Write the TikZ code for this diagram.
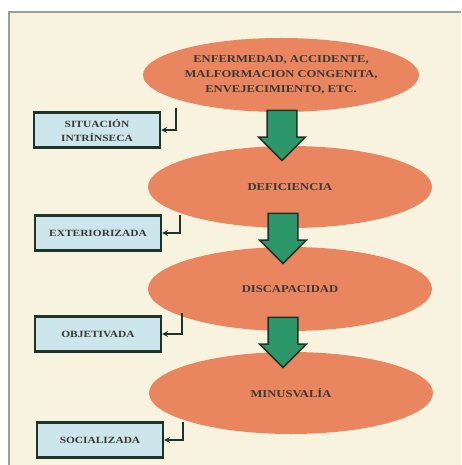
\documentclass[tikz,border=0pt]{standalone}
\usepackage{fontspec}
\setmainfont{Liberation Serif}[FakeStretch=1.2]
\usetikzlibrary{shapes.geometric,shapes.arrows,arrows}

\definecolor{crema}{RGB}{248,243,222}
\definecolor{marco}{RGB}{150,162,150}
\definecolor{salmon}{RGB}{233,134,96}
\definecolor{celeste}{RGB}{204,230,236}
\definecolor{verde}{RGB}{44,152,106}
\definecolor{oscuro}{RGB}{30,52,42}
\definecolor{texto}{RGB}{60,56,52}

\begin{document}
\begin{tikzpicture}[x=1pt,y=-1pt]
  \tikzstyle{enlace}=[->,>=stealth,thick,draw=oscuro,line width=1.6pt]
\tikzset{estado/.style={ellipse,fill=salmon,inner sep=0pt,
  minimum width=284pt,minimum height=82pt,align=center,text=texto,
  font=\bfseries\fontsize{10.5}{15}\selectfont},
caja/.style={draw=oscuro,line width=2.2pt,fill=celeste,minimum width=126pt,
  minimum height=35pt,align=center,text=texto,
  font=\bfseries\fontsize{9.5}{14}\selectfont},
flecha/.style={single arrow,rotate=-90,draw=oscuro,line width=1.6pt,fill=verde,
  minimum height=50pt,inner xsep=0pt,inner ysep=14pt,
  single arrow head extend=8.5pt,single arrow head indent=0pt}}
\useasboundingbox (0,0) rectangle (461,465);
\fill[crema] (9,12) rectangle (461,465);
\draw[marco,line width=2pt] (9,465) -- (9,12) -- (461,12);

\node[estado,minimum width=276pt,minimum height=74pt] (e1) at (281,75)
  {ENFERMEDAD, ACCIDENTE,\\MALFORMACION CONGENITA,\\ENVEJECIMIENTO, ETC.};
\node[estado] (e2) at (290,187){DEFICIENCIA};
\node[estado,minimum height=84pt] (e3) at (290,289){DISCAPACIDAD};
\node[estado] (e4) at (291,393){MINUSVALÍA};

\node[flecha] (f1) at (282,128){};
\node[flecha] (f2) at (283,231){};
\node[flecha] (f3) at (283,335){};

\node[caja] (s1) at (97,130){SITUACIÓN\\INTRÍNSECA};
\node[caja] (s2) at (98,233){EXTERIORIZADA};
\node[caja] (s3) at (98,334){OBJETIVADA};
\node[caja] (s4) at (100,440){SOCIALIZADA};

\coordinate (c1) at (176,108);
\coordinate (c2) at (180,215);
\coordinate (c3) at (182,313);
\coordinate (c4) at (183,422);

\draw[enlace] (c1) |- (s1.east);
\draw[enlace] (c2) |- (s2.east);
\draw[enlace] (c3) |- (s3.east);
\draw[enlace] (c4) |- (s4.east);

  \end{tikzpicture}
\end{document}
